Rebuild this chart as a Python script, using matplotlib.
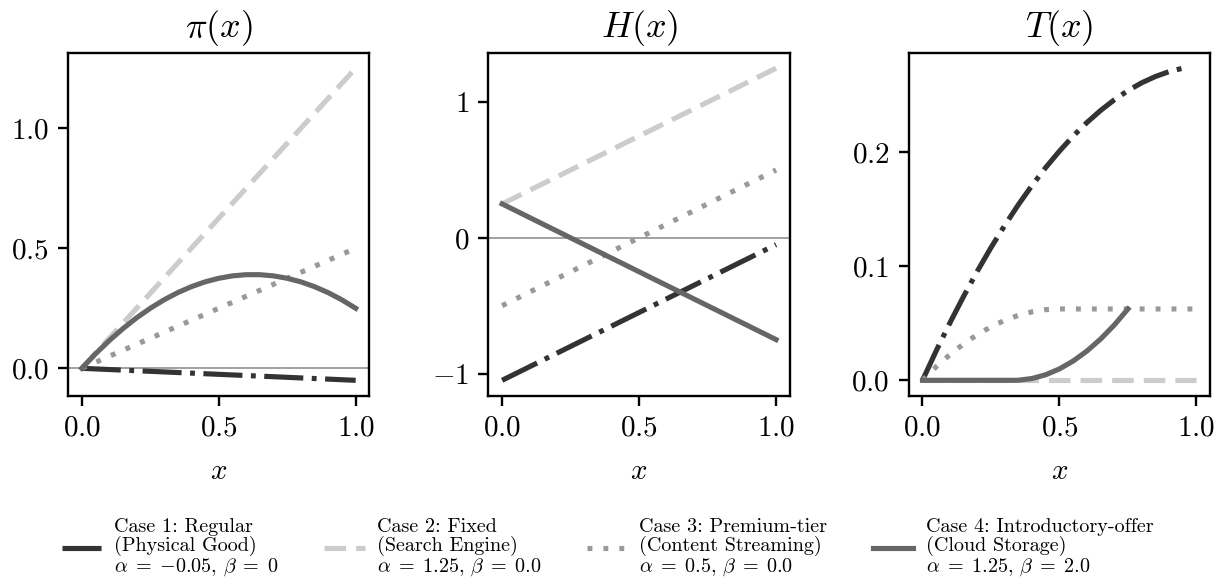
import matplotlib
matplotlib.use("Agg")
import matplotlib.pyplot as plt

plt.rcParams.update({
    "font.family": "serif",
    "font.serif": ["cmr10", "DejaVu Serif"],
    "mathtext.fontset": "cm",
    "axes.formatter.use_mathtext": True,
    "axes.unicode_minus": True,
})

# ---------------- data ----------------
case_labels = [
    "Case 1: Regular\n(Physical Good)\n$\\alpha\\;=\\;{-}0.05$, $\\beta\\;=\\;0$",
    "Case 2: Fixed\n(Search Engine)\n$\\alpha\\;=\\;1.25$, $\\beta\\;=\\;0.0$",
    "Case 3: Premium-tier\n(Content Streaming)\n$\\alpha\\;=\\;0.5$, $\\beta\\;=\\;0.0$",
    "Case 4: Introductory-offer\n(Cloud Storage)\n$\\alpha\\;=\\;1.25$, $\\beta\\;=\\;2.0$",
]
panel_titles = ["$\\pi(x)$", "$H(x)$", "$T(x)$"]

# pi(x)
pi_x_lin = [0.0, 1.0]
pi_case1 = [0.0, -0.05]
pi_case2 = [0.0, 1.25]
pi_case3 = [0.0, 0.5]
pi_x_case4 = [0.0, 0.05, 0.1, 0.15, 0.2, 0.25, 0.3, 0.35, 0.4, 0.45, 0.5,
              0.55, 0.6, 0.65, 0.7, 0.75, 0.8, 0.85, 0.9, 0.95, 1.0]
pi_case4 = [0.0, 0.06, 0.115, 0.165, 0.21, 0.25, 0.285, 0.315, 0.34, 0.36, 0.375,
            0.385, 0.39, 0.39, 0.385, 0.375, 0.36, 0.34, 0.315, 0.285, 0.25]

# H(x)
h_x = [0.0, 1.0]
h_case1 = [-1.05, -0.05]
h_case2 = [0.25, 1.25]
h_case3 = [-0.5, 0.5]
h_case4 = [0.25, -0.75]

# T(x)
t_x_case1 = [0.0, 0.05, 0.1, 0.15, 0.2, 0.25, 0.3, 0.35, 0.4, 0.45, 0.5,
             0.55, 0.6, 0.65, 0.7, 0.75, 0.8, 0.85, 0.9, 0.95]
t_case1 = [0.0, 0.0258, 0.0503, 0.0735, 0.0955, 0.1162, 0.1356, 0.1538, 0.1707, 0.1864,
           0.2007, 0.2139, 0.2257, 0.2363, 0.2456, 0.2537, 0.2605, 0.2660, 0.2703, 0.2733]
t_x_case2 = [0.0, 1.0]
t_case2 = [0.0, 0.0]
t_x_case3 = [0.0, 0.05, 0.1, 0.15, 0.2, 0.25, 0.3, 0.35, 0.4, 0.45, 0.5, 1.0]
t_case3 = [0.0, 0.0119, 0.0225, 0.0319, 0.04, 0.0469, 0.0525, 0.0569, 0.06, 0.0619,
           0.0625, 0.0625]
t_x_case4 = [0.0, 0.3333, 0.35, 0.4, 0.45, 0.5, 0.55, 0.6, 0.65, 0.7, 0.75]
t_case4 = [0.0, 0.0, 0.0001, 0.0016, 0.0049, 0.01, 0.0169, 0.0256, 0.0361, 0.0484, 0.0625]

x_ticks = [0.0, 0.5, 1.0]
y_ticks = [[0.0, 0.5, 1.0], [-1, 0, 1], [0.0, 0.1, 0.2]]

# ---------------- styles ----------------
LW = 3.7
styles = [
    dict(color="#333333", dashes=(7.6, 1.65, 0.95, 1.65)),
    dict(color="#cccccc", dashes=(4.2, 1.95)),
    dict(color="#999999", dashes=(0.95, 2.15)),
    dict(color="#666666", linestyle="-"),
]

fig = plt.figure(figsize=(12.15, 5.78), dpi=100)
axes = fig.subplots(1, 3)
fig.subplots_adjust(left=0.056, right=0.996, top=0.909, bottom=0.315, wspace=0.395)

series = [
    [(pi_x_lin, pi_case1), (pi_x_lin, pi_case2), (pi_x_lin, pi_case3), (pi_x_case4, pi_case4)],
    [(h_x, h_case1), (h_x, h_case2), (h_x, h_case3), (h_x, h_case4)],
    [(t_x_case1, t_case1), (t_x_case2, t_case2), (t_x_case3, t_case3), (t_x_case4, t_case4)],
]

handles = []
for i, ax in enumerate(axes):
    if i < 2:
        ax.axhline(0, color="#888888", lw=1.1, zorder=1)
    for j, (xs, ys) in enumerate(series[i]):
        ln, = ax.plot(xs, ys, lw=LW, zorder=2, **styles[j])
        if i == 0:
            handles.append(ln)
    ax.set_title(panel_titles[i], fontsize=26, pad=11)
    ax.set_xlabel("$x$", fontsize=21, labelpad=12)
    ax.set_xticks(x_ticks)
    ax.set_yticks(y_ticks[i])
    ax.tick_params(axis="both", labelsize=21, length=7, width=1.7, pad=7, direction="out")
    for sp in ax.spines.values():
        sp.set_linewidth(1.7)

leg = fig.legend(handles, case_labels, loc="center", bbox_to_anchor=(0.5, 0.052),
                 ncol=4, frameon=False, fontsize=14.5, handlelength=2.0,
                 columnspacing=2.28, handletextpad=0.6, borderpad=0.2)
for t in leg.get_texts():
    t.set_linespacing(1.02)

fig.savefig("out.png", dpi=100)
